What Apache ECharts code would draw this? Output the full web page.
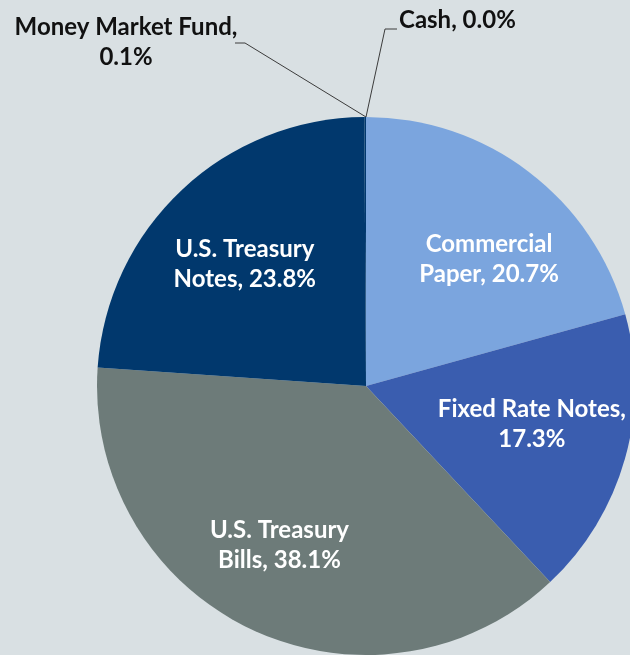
<!DOCTYPE html>
<html>
<head>
  <meta charset="UTF-8">
  <title>Portfolio Composition</title>
  <script src="https://cdn.jsdelivr.net/npm/echarts@6/dist/echarts.min.js"></script>
  <style>
    html, body { margin: 0; padding: 0; background: #d9e0e3; }
    #chart { width: 630px; height: 655px; }
  </style>
</head>
<body>
  <div id="chart"></div>
  <script>
    // categories and shares (%), clockwise from the top
    const categories = ['Commercial Paper', 'Fixed Rate Notes', 'U.S. Treasury Bills',
                        'U.S. Treasury Notes', 'Money Market Fund', 'Cash'];
    const shares = [20.7, 17.3, 38.1, 23.8, 0.1, 0.0];
    const colors = ['#7ba5de', '#3a5daf', '#6d7b79', '#01386d', '#01386d', '#7ba5de'];
    // how each label is split over two lines
    const labelLines = {
      'Commercial Paper': 'Commercial\nPaper, {v}',
      'Fixed Rate Notes': 'Fixed Rate Notes,\n{v}',
      'U.S. Treasury Bills': 'U.S. Treasury\nBills, {v}',
      'U.S. Treasury Notes': 'U.S. Treasury\nNotes, {v}',
      'Money Market Fund': 'Money Market Fund,\n{v}',
      'Cash': 'Cash, {v}'
    };
    const outsideNames = ['Money Market Fund', 'Cash'];
    // small nudges for the inside labels (px)
    const insideNudge = {
      'Commercial Paper': [15, 15],
      'Fixed Rate Notes': [-6, -10],
      'U.S. Treasury Bills': [-10, -2],
      'U.S. Treasury Notes': [1, 8]
    };

    function labelText(p) {
      return labelLines[p.name].replace('{v}', p.value.toFixed(1) + '%');
    }

    const center = [366, 386];
    const R = 269;
    const font = { fontFamily: 'Lato', fontWeight: 'bold', fontSize: 24, lineHeight: 30 };

    const chart = echarts.init(document.getElementById('chart'));

    const baseData = categories.map((c, i) => ({
      name: c,
      value: shares[i],
      itemStyle: { color: colors[i] },
      label: { show: outsideNames.includes(c) },
      labelLine: { show: outsideNames.includes(c) }
    }));

    const overlayData = categories.map((c, i) => ({
      name: c,
      value: shares[i],
      label: { show: !outsideNames.includes(c) }
    }));

    chart.setOption({
      backgroundColor: '#d9e0e3',
      animation: false,
      series: [
        {
          type: 'pie',
          center: center,
          radius: [0, R],
          startAngle: 90,
          clockwise: true,
          avoidLabelOverlap: false,
          silent: true,
          itemStyle: { borderWidth: 0 },
          label: Object.assign({
            position: 'outside',
            color: '#111111',
            formatter: labelText
          }, font),
          labelLine: {
            show: true,
            length: 20,
            length2: 10,
            lineStyle: { color: '#3c3c3c', width: 1 }
          },
          labelLayout: function (p) {
            const name = categories[p.dataIndex];
            const sx = center[0], sy = center[1] - R;
            if (name === 'Money Market Fund') {
              return {
                x: sx - 240, y: sy - 75, align: 'center', verticalAlign: 'middle',
                labelLinePoints: [[sx, sy], [sx - 121, sy - 74], [sx - 131, sy - 74]]
              };
            }
            if (name === 'Cash') {
              return {
                x: sx + 33, y: sy - 97, align: 'left', verticalAlign: 'middle',
                labelLinePoints: [[sx, sy], [sx + 19, sy - 88], [sx + 31, sy - 88]]
              };
            }
            return {};
          },
          data: baseData
        },
        {
          // transparent ring used only to place the inside labels
          type: 'pie',
          center: center,
          radius: [82, R],
          startAngle: 90,
          clockwise: true,
          silent: true,
          itemStyle: { color: 'rgba(0,0,0,0)', borderWidth: 0 },
          label: Object.assign({
            position: 'inside',
            color: '#ffffff',
            formatter: labelText
          }, font),
          labelLine: { show: false },
          labelLayout: function (p) {
            const n = insideNudge[categories[p.dataIndex]];
            return n ? { dx: n[0], dy: n[1] } : {};
          },
          data: overlayData
        }
      ]
    });
  </script>
</body>
</html>
